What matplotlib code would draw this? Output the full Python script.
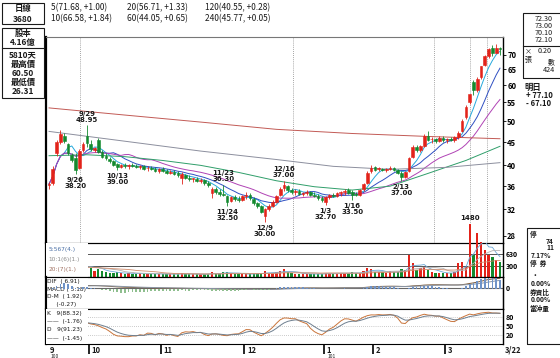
import numpy as np
import pandas as pd
import matplotlib
matplotlib.use("Agg")
import matplotlib.pyplot as plt
from matplotlib.patches import Rectangle
from matplotlib.ticker import NullLocator
import matplotlib.transforms as mtransforms

plt.rcParams["font.family"] = ["Noto Sans CJK TC", "DejaVu Sans"]

W, H = 560, 358

# --- données (séances du 9/16 au 3/22)
months = ["9", "10", "11", "12", "1", "2", "3"]
month_start = [0, 11, 30, 52, 73, 86, 105]

opens = [
    36.2, 36.5, 42.5, 45.0, 46.5, 44.5, 42.2, 41.5, 39.5, 43.2, 46.5,
    44.5, 43.2, 45.5, 42.8, 42.0, 41.3, 40.8, 40.2, 39.6, 40.0, 39.8, 40.0, 39.9, 39.6, 39.8, 39.4, 39.5, 39.2, 38.8,
    39.2, 38.9, 38.5, 38.7, 38.4, 37.6, 38.0, 37.6, 37.3, 37.4, 37.0, 37.1, 36.5, 34.8, 35.5, 35.0, 34.6, 34.2, 33.4, 34.0, 33.8, 33.6,
    34.3, 34.5, 33.8, 33.0, 32.5, 31.0, 32.0, 32.6, 33.3, 34.4, 35.6, 36.0, 35.3, 34.9, 35.2, 34.6, 34.8, 35.0, 34.5, 34.3, 33.9,
    33.2, 34.0, 34.4, 34.2, 34.7, 34.9, 35.3, 34.9, 34.6, 34.4, 35.4, 36.6, 38.8,
    39.6, 39.2, 39.3, 39.0, 39.3, 39.4, 39.0, 38.5, 37.8, 38.8, 41.8, 43.8, 43.2, 44.2, 46.3, 45.6, 45.8, 45.2, 46.0,
    45.4, 45.6, 45.4, 46.2, 47.5, 51.0, 55.0, 61.0, 58.5, 62.5, 66.5, 69.5, 72.5, 70.8, 72.3,
]
highs = [
    36.8, 39.8, 45.5, 47.8, 47.0, 44.8, 42.6, 42.5, 43.5, 45.0, 48.95,
    45.5, 43.8, 46.0, 43.2, 42.5, 41.8, 41.0, 40.5, 40.3, 40.4, 40.2, 40.5, 40.3, 40.0, 40.0, 39.8, 39.9, 39.6, 39.4,
    39.6, 39.2, 39.0, 39.0, 38.8, 38.6, 38.3, 38.0, 37.6, 37.7, 37.5, 37.4, 36.9, 35.8, 35.8, 35.4, 36.3, 34.4, 34.3, 34.4, 34.2, 34.5,
    34.9, 34.7, 34.0, 33.3, 32.8, 32.3, 32.9, 33.5, 34.5, 35.8, 37.0, 36.3, 35.6, 35.5, 35.5, 35.0, 35.3, 35.2, 34.9, 34.6, 34.2,
    34.2, 34.6, 34.8, 34.9, 35.1, 35.4, 35.6, 35.3, 35.0, 35.5, 36.6, 38.8, 40.0,
    39.9, 39.6, 39.5, 39.5, 39.8, 39.6, 39.3, 38.8, 38.8, 41.8, 44.3, 44.3, 44.4, 46.8, 47.5, 46.2, 46.0, 46.5, 46.4,
    45.9, 46.2, 46.5, 47.5, 50.5, 54.2, 57.5, 61.5, 62.5, 66.3, 70.0, 72.5, 73.5, 74.0, 73.0,
]
lows = [
    35.5, 36.3, 42.0, 44.5, 44.8, 42.2, 40.6, 38.2, 39.3, 42.8, 44.0,
    43.0, 42.8, 42.5, 41.5, 41.2, 40.5, 39.8, 39.0, 39.4, 39.5, 39.3, 39.6, 39.4, 39.2, 39.1, 38.8, 39.0, 38.6, 38.5,
    38.6, 38.3, 38.2, 38.0, 37.8, 36.4, 37.4, 37.0, 36.8, 36.8, 36.6, 36.3, 35.9, 33.9, 34.6, 34.3, 34.2, 32.5, 33.2, 33.4, 33.3, 33.4,
    33.8, 33.6, 32.8, 32.2, 31.4, 30.0, 31.8, 32.4, 33.1, 34.2, 35.2, 35.0, 34.6, 34.5, 34.4, 34.2, 34.5, 34.3, 34.0, 33.6, 33.2,
    32.7, 33.8, 34.0, 34.0, 34.3, 34.5, 34.6, 33.5, 34.2, 34.3, 35.2, 36.4, 38.4,
    38.9, 38.9, 38.8, 38.7, 39.0, 38.8, 38.2, 37.0, 37.6, 38.6, 41.5, 42.8, 42.9, 44.0, 45.2, 44.8, 44.9, 45.0, 45.0,
    44.8, 45.2, 45.1, 45.8, 47.3, 50.5, 54.5, 57.0, 58.0, 62.0, 66.0, 69.0, 69.5, 70.5, 70.1,
]
closes = [
    36.4, 39.3, 45.0, 46.8, 45.2, 42.6, 41.0, 39.0, 43.0, 44.5, 44.8,
    43.5, 43.6, 42.8, 41.8, 41.5, 40.8, 40.1, 39.6, 40.0, 39.8, 40.0, 39.9, 39.6, 39.8, 39.3, 39.5, 39.2, 38.8, 39.2,
    38.9, 38.5, 38.7, 38.2, 38.0, 38.2, 37.6, 37.3, 37.5, 37.0, 37.2, 36.5, 36.2, 35.5, 35.0, 34.6, 34.4, 33.3, 34.0, 33.8, 33.6, 34.2,
    34.5, 33.9, 33.0, 32.5, 31.6, 32.0, 32.6, 33.3, 34.2, 35.5, 36.2, 35.3, 34.9, 35.2, 34.6, 34.8, 35.0, 34.5, 34.3, 33.9, 33.5,
    34.0, 34.4, 34.2, 34.7, 34.9, 35.1, 34.8, 34.5, 34.4, 35.3, 36.4, 38.5, 39.5,
    39.1, 39.4, 39.0, 39.3, 39.5, 39.0, 38.5, 37.8, 38.6, 41.5, 43.8, 43.2, 44.1, 46.5, 45.5, 45.8, 45.2, 46.0, 45.4,
    45.6, 45.4, 46.2, 47.2, 50.0, 53.8, 57.5, 58.5, 62.0, 66.0, 69.5, 72.0, 70.5, 72.3, 72.1,
]
volumes = [
    180, 260, 320, 350, 280, 220, 200, 260, 240, 300, 380,
    260, 180, 220, 160, 140, 120, 110, 130, 100, 90, 110, 95, 85, 100, 90, 80, 95, 85, 90,
    80, 75, 85, 70, 90, 120, 80, 75, 70, 85, 75, 80, 90, 130, 95, 85, 140, 150, 100, 80, 75, 90,
    85, 80, 90, 100, 110, 160, 120, 110, 130, 170, 210, 140, 110, 95, 90, 85, 80, 75, 85, 80, 90,
    120, 110, 100, 95, 110, 120, 105, 130, 100, 120, 180, 250, 230,
    150, 140, 130, 120, 160, 130, 150, 220, 200, 620, 390, 200, 250, 280, 200, 150, 120, 100, 110,
    100, 120, 150, 390, 420, 280, 1480, 620, 1230, 980, 760, 620, 560, 480, 424,
]

# moyennes longues
ma60_idx = [0, 10, 20, 30, 40, 50, 60, 70, 80, 90, 100, 110, 119]
ma60_vals = [42.0, 42.2, 41.8, 41.0, 40.0, 38.6, 37.0, 35.9, 35.3, 36.0, 38.4, 41.0, 44.05]
ma120_idx = [0, 20, 40, 60, 75, 90, 105, 119]
ma120_vals = [47.5, 45.2, 43.0, 41.2, 39.8, 39.2, 39.6, 40.55]
ma240_idx = [0, 20, 40, 60, 80, 100, 119]
ma240_vals = [53.5, 51.6, 49.8, 48.0, 47.0, 46.3, 45.77]

price_ticks = [28, 32, 36, 40, 45, 50, 55, 60, 65, 70]

marks = [
    (10, "9/29\n48.95", "high"),
    (7, "9/26\n38.20", "low"),
    (18, "10/13\n39.00", "low"),
    (46, "11/23\n36.30", "high"),
    (47, "11/24\n32.50", "low"),
    (57, "12/9\n30.00", "low"),
    (62, "12/16\n37.00", "high"),
    (73, "1/3\n32.70", "low"),
    (80, "1/16\n33.50", "low"),
    (93, "2/13\n37.00", "low"),
]

RED = "#e2231a"
GREEN = "#138a2e"
DARK = "#1a1a1a"

n = len(closes)
x = np.arange(n)
o = np.array(opens); h = np.array(highs); l = np.array(lows); c = np.array(closes)
v = np.array(volumes)
up = c >= o
col = np.where(up, RED, GREEN)


def fx(px):
    return px / W


def fy(py):
    return 1 - py / H


def px_axes(x0, y0, x1, y1):
    return fig.add_axes([fx(x0), fy(y1), (x1 - x0) / W, (y1 - y0) / H])


fig = plt.figure(figsize=(W / 100, H / 100), dpi=100)
fig.patch.set_facecolor("white")

XL = (-0.8, 119.8)

# --- prix
ax = px_axes(46, 37, 503, 243)
ax.set_yscale("log")
ax.set_xlim(*XL)
ax.set_ylim(27.0, 76.6)

for gx in [8.2, 64.4, 101.6, 111.1, 115.6]:
    ax.axvline(gx, color="#888888", lw=0.6, ls=(0, (1, 1.5)), zorder=1)

s = pd.Series(closes)
ma_colors = {5: "#27a9dc", 10: "#2f4fc2", 20: "#b043b5"}
for w_, cc in ma_colors.items():
    ax.plot(x, s.rolling(w_, min_periods=1).mean(), color=cc, lw=0.7, zorder=2)
ax.plot(ma60_idx, ma60_vals, color="#2f9e6a", lw=0.7, zorder=2)
ax.plot(ma120_idx, ma120_vals, color="#8c8f9e", lw=0.7, zorder=2)
ax.plot(ma240_idx, ma240_vals, color="#c25a55", lw=0.7, zorder=2)

ax.vlines(x, l, h, color=col, lw=0.6, zorder=3)
ax.bar(x, np.abs(c - o), bottom=np.minimum(o, c), width=0.7, color=col,
       edgecolor=col, linewidth=0.4, zorder=4)

for i, txt, kind in marks:
    if kind == "high":
        ax.annotate(txt, (i, highs[i]), xytext=(0, 2), textcoords="offset points",
                    ha="center", va="bottom", fontsize=5, fontweight="bold",
                    color=DARK, linespacing=1.0, family="DejaVu Sans")
    else:
        ax.annotate(txt, (i, lows[i]), xytext=(0, -2), textcoords="offset points",
                    ha="center", va="top", fontsize=5, fontweight="bold",
                    color=DARK, linespacing=1.0, family="DejaVu Sans")

ax.yaxis.tick_right()
ax.yaxis.set_minor_locator(NullLocator())
ax.set_yticks(price_ticks)
ax.set_yticklabels([str(t) for t in price_ticks], fontweight="bold")
ax.tick_params(axis="y", labelsize=5.5, length=2, pad=1, width=0.6)
ax.set_xticks([])
ax.spines["left"].set_linewidth(1.6)
ax.spines["top"].set_color("#777777")
ax.spines["top"].set_linewidth(0.8)
ax.spines["bottom"].set_linewidth(0.8)
ax.spines["right"].set_linewidth(1.0)

# --- volume
axv = px_axes(46, 243, 503, 277)
axv.set_facecolor("none")
axv.set_xlim(*XL)
axv.set_ylim(0, 950)
axv.bar(x, v, width=0.6, color=col, clip_on=False, zorder=3)
vs = pd.Series(volumes)
for w_, cc in [(5, "#6aa7d6"), (10, "#b0b0b0"), (20, "#d08a6a")]:
    axv.plot(x, vs.rolling(w_, min_periods=1).mean(), color=cc, lw=0.6, zorder=4)
for lv in [630, 300]:
    axv.axhline(lv, color="#555555", lw=0.7, zorder=2)
axv.annotate("1480", (111, 1480), xytext=(0, 2), textcoords="offset points",
             ha="center", va="bottom", fontsize=5, fontweight="bold",
             color=DARK, annotation_clip=False, family="DejaVu Sans")
axv.yaxis.tick_right()
axv.set_yticks([300, 630])
axv.set_yticklabels(["300", "630"], fontweight="bold")
axv.tick_params(axis="y", labelsize=5, length=0, pad=2)
axv.set_xticks([])

# --- MACD
axm = px_axes(46, 277, 503, 309)
axm.set_xlim(*XL)
ema12 = s.ewm(span=12, adjust=False).mean()
ema26 = s.ewm(span=26, adjust=False).mean()
dif = ema12 - ema26
dea = dif.ewm(span=9, adjust=False).mean()
osc = dif - dea
lim_top = dif.max() * 1.15
axm.set_ylim(-lim_top * 2.0, lim_top)
axm.axhline(0, color="#666666", lw=0.8)
axo = axm.twinx()
axo.set_ylim(-3.5, 2.2)
axo.bar(x, osc, width=0.45, color=np.where(osc >= 0, "#6f93c8", "#8fbf8f"), zorder=2)
axo.set_yticks([])
axm.plot(x, dif, color="#7c5a3a", lw=0.7, zorder=3)
axm.plot(x, dea, color="#8a96a6", lw=0.7, zorder=3)
axm.yaxis.tick_right()
axm.set_yticks([0])
axm.set_yticklabels(["0"], fontweight="bold")
axm.tick_params(axis="y", labelsize=5, length=0, pad=2)
axm.set_xticks([])

# --- KD
axk = px_axes(46, 309, 503, 344)
axk.set_xlim(*XL)
axk.set_ylim(-10, 106.7)
kv, dv = [], []
k_, d_ = 50.0, 50.0
for i in range(n):
    lo = min(lows[max(0, i - 8):i + 1]); hi = max(highs[max(0, i - 8):i + 1])
    rsv = (closes[i] - lo) / (hi - lo) * 100 if hi > lo else 50
    k_ = k_ * 2 / 3 + rsv / 3
    d_ = d_ * 2 / 3 + k_ / 3
    kv.append(k_); dv.append(d_)
for lv in [80, 50, 20]:
    axk.axhline(lv, color="#999999", lw=0.5, ls=(0, (1, 2)))
axk.plot(x, kv, color="#c9743a", lw=0.7)
axk.plot(x, dv, color="#6e7f8f", lw=0.7)
axk.yaxis.tick_right()
axk.set_yticks([20, 50, 80])
axk.set_yticklabels(["20", "50", "80"], fontweight="bold")
axk.tick_params(axis="y", labelsize=5, length=0, pad=2)

bounds = [m - 0.5 for m in month_start[1:]]
axk.set_xticks(bounds)
axk.set_xticklabels([])
axk.tick_params(axis="x", length=7, width=1.2, direction="out")
tr = mtransforms.blended_transform_factory(axk.transData, axk.transAxes)
for m, lab in zip(month_start, months):
    axk.text(m + 0.3, -0.05, lab, transform=tr, ha="left", va="top",
             fontsize=5.5, fontweight="bold", color=DARK)
axk.text(0.5, -0.3, "100", transform=tr, ha="left", va="top", fontsize=3.5, color=DARK)
axk.text(73.5, -0.3, "101", transform=tr, ha="left", va="top", fontsize=3.5, color=DARK)

for a in (axv, axm, axk):
    a.spines["left"].set_linewidth(1.6)
    a.spines["right"].set_linewidth(1.0)
    a.spines["top"].set_linewidth(0.8)
    a.spines["bottom"].set_linewidth(0.8)

# boîtes de libellés à gauche des indicateurs
for a in (axv, axm, axk):
    a.add_patch(Rectangle((0, 0), 0.092, 1, transform=a.transAxes,
                          fc="white", ec="none", zorder=10, clip_on=False))

lab_kw = dict(fontsize=4.2, family="DejaVu Sans", zorder=11, va="center")
axv.text(0.005, 0.82, "5:567(4.)", color="#4a6fa5", transform=axv.transAxes, **lab_kw)
axv.text(0.005, 0.52, "10:1(6)(1.)", color="#8a8a8a", transform=axv.transAxes, **lab_kw)
axv.text(0.005, 0.22, "20:(7)(1.)", color="#a07060", transform=axv.transAxes, **lab_kw)
for yy, t in zip([0.86, 0.62, 0.38, 0.13], ["DIF  ( 6.91)", "MACD ( 5.18)", "D-M  ( 1.92)", "     (-0.27)"]):
    axm.text(0.003, yy, t, color=DARK, transform=axm.transAxes, **lab_kw)
for yy, t in zip([0.87, 0.64, 0.41, 0.17], ["K   9(88.32)", "——  (-1.76)", "D   9(91.23)", "——  (-1.45)"]):
    axk.text(0.003, yy, t, color=DARK, transform=axk.transAxes, **lab_kw)


# --- en-tête et encadrés
def box(x0, y0, x1, y1, lw=0.8):
    fig.add_artist(Rectangle((fx(x0), fy(y1)), (x1 - x0) / W, (y1 - y0) / H,
                             transform=fig.transFigure, fill=False, ec=DARK, lw=lw))


def ftxt(px, py, t, size=5.5, **kw):
    fig.text(fx(px), fy(py), t, fontsize=size, color=kw.pop("color", DARK),
             va=kw.pop("va", "center"), ha=kw.pop("ha", "left"), **kw)


box(2, 3, 44, 24)
ftxt(23, 9, "日線", 6, ha="center", fontweight="bold")
ftxt(23, 19, "3680", 6, ha="center", fontweight="bold")

ftxt(51, 8, "5(71.68, +1.00)", 6)
ftxt(127, 8, "20(56.71, +1.33)", 6)
ftxt(205, 8, "120(40.55, +0.28)", 6)
ftxt(51, 19, "10(66.58, +1.84)", 6)
ftxt(127, 19, "60(44.05, +0.65)", 6)
ftxt(205, 19, "240(45.77, +0.05)", 6)

box(2, 28, 44, 98)
fig.add_artist(plt.Line2D([fx(2), fx(44)], [fy(48), fy(48)], transform=fig.transFigure, color=DARK, lw=0.8))
ftxt(23, 33, "股本", 6, ha="center", fontweight="bold")
ftxt(23, 42, "4.16億", 6, ha="center", fontweight="bold")
ftxt(23, 55, "5810天", 6, ha="center", fontweight="bold")
ftxt(23, 64, "最高價", 6, ha="center", fontweight="bold")
ftxt(23, 73, "60.50", 6, ha="center", fontweight="bold")
ftxt(23, 82, "最低價", 6, ha="center", fontweight="bold")
ftxt(23, 91, "26.31", 6, ha="center", fontweight="bold")

box(523, 13, 565, 78)
fig.add_artist(plt.Line2D([fx(523), fx(560)], [fy(46), fy(46)], transform=fig.transFigure, color=DARK, lw=0.8))
for yy, t in zip([19, 26, 33, 40], ["72.30", "73.00", "70.10", "72.10"]):
    ftxt(535, yy, t, 5.2)
ftxt(525, 51, "×", 5)
ftxt(538, 51, "0.20", 5.2)
ftxt(525, 60, "張", 5)
ftxt(548, 62, "數", 5)
ftxt(543, 70, "424", 5.2)
ftxt(524, 87, "明日", 6, fontweight="bold")
ftxt(526, 96, "+ 77.10", 5.5, fontweight="bold")
ftxt(526, 104, "- 67.10", 5.5, fontweight="bold")

box(527, 228, 565, 344)
rows = [(234, 530, "停"), (241, 546, "74"), (248, 546, "11"), (255, 531, "7.17%"),
        (263, 530, "停  券"), (275, 532, "•"), (284, 531, "0.00%"),
        (292, 530, "券資比"), (300, 531, "0.00%"), (308, 530, "當沖量")]
for yy, xx, t in rows:
    ftxt(xx, yy, t, 4.8, fontweight="bold")

ftxt(505, 350, "3/22", 5.5, fontweight="bold")

fig.savefig("out.png", dpi=100, facecolor="white")
